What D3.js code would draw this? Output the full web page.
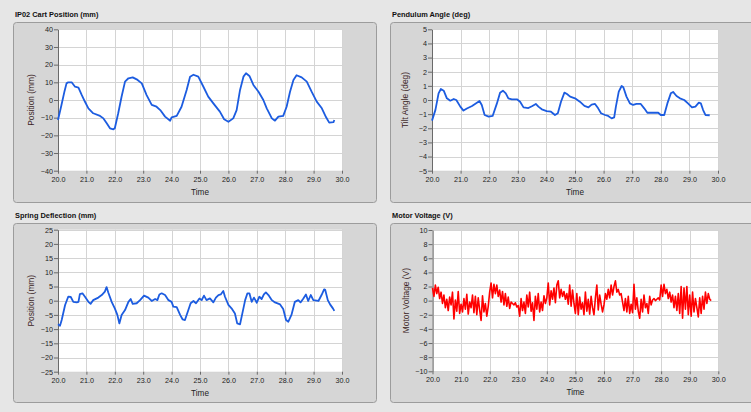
<!DOCTYPE html>
<html>
<head>
<meta charset="utf-8">
<script src="https://cdn.jsdelivr.net/npm/d3@7"></script>
<style>
  body { margin: 0; background: #e6e6e6; }
  svg { display: block; font-family: "Liberation Sans", Arial, sans-serif; }
</style>
</head>
<body>
<svg id="chart" width="751" height="412"></svg>
<script>
// time axis shared by all four graphs
const timeTicks = [20, 21, 22, 23, 24, 25, 26, 27, 28, 29, 30];

// IP02 cart position (mm)
const cartTime = [20.0, 20.12, 20.23, 20.3, 20.36, 20.48, 20.6, 20.72, 20.83, 20.95, 21.07, 21.24, 21.48, 21.6, 21.71, 21.83, 21.95, 22.0,
  22.12, 22.24, 22.36, 22.48, 22.63, 22.77, 22.95, 23.12, 23.3, 23.47, 23.6, 23.77, 23.95, 24.0, 24.18, 24.35, 24.53, 24.65,
  24.77, 24.94, 25.12, 25.29, 25.47, 25.7, 25.85, 26.0, 26.17, 26.29, 26.41, 26.53, 26.62, 26.74, 26.88, 27.06, 27.23, 27.35,
  27.53, 27.64, 27.76, 27.93, 28.05, 28.17, 28.29, 28.4, 28.58, 28.76, 28.93, 29.11, 29.29, 29.44, 29.55, 29.7, 29.73];
const cartPos = [-11.3, -3, 5, 9.4, 10, 10, 7.5, 7, 3, -1, -4.7, -7.5, -9, -10.4, -13, -16, -16.6, -16,
  -7.5, 2, 10.4, 12.3, 12.8, 11.7, 9.4, 2.8, -2.8, -3.8, -5.7, -9.4, -11.7, -9.8, -9, -3.8, 5.7, 13.2,
  14.3, 13.2, 7.5, 1.9, -1.9, -6.6, -10.9, -12.3, -10.4, -5.7, 5.7, 13.2, 15.1, 13.6, 8.5, 4.7, 0, -4.7,
  -10.4, -11.7, -9.4, -9, -3.8, 4.7, 11.3, 14, 12.8, 10.4, 4.7, -0.9, -4.7, -9.8, -12.8, -12.5, -11.3];
const cartTicks = [-40, -30, -20, -10, 0, 10, 20, 30, 40];

// pendulum angle (deg)
const angleTime = [20.0, 20.12, 20.23, 20.31, 20.41, 20.52, 20.64, 20.76, 20.85, 20.99, 21.1, 21.22, 21.4, 21.57, 21.66, 21.74,
  21.84, 21.98, 22.12, 22.27, 22.38, 22.48, 22.58, 22.67, 22.79, 22.97, 23.08, 23.2, 23.37, 23.51, 23.63, 23.72, 23.84, 24.01,
  24.16, 24.3, 24.4, 24.51, 24.63, 24.72, 24.83, 25.0, 25.17, 25.33, 25.47, 25.58, 25.7, 25.81, 25.91, 26.05, 26.16, 26.28,
  26.37, 26.43, 26.53, 26.63, 26.69, 26.8, 26.92, 27.03, 27.15, 27.3, 27.42, 27.53, 27.67, 27.91, 28.0, 28.12, 28.23, 28.35,
  28.43, 28.55, 28.67, 28.82, 28.95, 29.09, 29.21, 29.33, 29.4, 29.48, 29.56, 29.71];
const angleVal = [-1.46, -0.7, 0.47, 0.78, 0.66, 0.12, -0.05, 0.07, 0, -0.47, -0.75, -0.6, -0.42, -0.19, -0.07, -0.35,
  -1.06, -1.18, -1.13, -0.24, 0.52, 0.66, 0.47, 0.12, 0.05, 0.05, -0.12, -0.52, -0.57, -0.42, -0.28, -0.47, -0.66, -0.78,
  -0.83, -1.06, -0.94, -0.12, 0.52, 0.42, 0.24, 0.12, -0.12, -0.42, -0.52, -0.33, -0.28, -0.59, -0.94, -1.06, -1.13, -1.3,
  -1.23, -0.47, 0.59, 0.99, 0.9, 0.24, -0.24, -0.35, -0.28, -0.28, -0.59, -0.9, -0.9, -0.9, -1.06, -1.06, -0.24, 0.47,
  0.57, 0.28, 0.12, 0, -0.24, -0.52, -0.47, -0.19, -0.24, -0.71, -1.06, -1.08];
const angleTicks = [-5, -4, -3, -2, -1, 0, 1, 2, 3, 4, 5];

// spring deflection (mm)
const springTime = [20.0, 20.07, 20.13, 20.25, 20.36, 20.45, 20.54, 20.66, 20.72, 20.77, 20.86, 20.95, 21.07, 21.15, 21.24,
  21.42, 21.54, 21.65, 21.71, 21.77, 21.89, 22.0, 22.09, 22.16, 22.24, 22.36, 22.48, 22.56, 22.63, 22.77, 22.89, 23.03, 23.18,
  23.3, 23.42, 23.5, 23.57, 23.65, 23.77, 23.89, 24.0, 24.06, 24.18, 24.3, 24.39, 24.47, 24.59, 24.67, 24.77, 24.86, 24.98,
  25.06, 25.14, 25.23, 25.35, 25.47, 25.56, 25.65, 25.73, 25.82, 25.88, 26.0, 26.11, 26.23, 26.31, 26.41, 26.48, 26.59, 26.67,
  26.74, 26.82, 26.9, 27.0, 27.09, 27.17, 27.25, 27.32, 27.41, 27.53, 27.64, 27.82, 27.93, 28.03, 28.11, 28.22, 28.34, 28.46,
  28.54, 28.64, 28.73, 28.81, 28.9, 28.99, 29.17, 29.28, 29.37, 29.41, 29.5, 29.58, 29.68, 29.73];
const springVal = [-8.3, -8.8, -6.8, -1.5, 1.4, 1.3, -0.4, -0.6, -0.4, 2.3, 2.6, 1.4, -0.4, -1.1, 0.2,
  1.1, 2.0, 3.2, 4.8, 2.9, -0.4, -2.7, -5.0, -8.0, -5.0, -3.3, -0.4, 0.6, -1.1, -0.9, 0.2, 1.8, 1.1,
  -0.1, 0.6, 0.2, 2.2, 2.6, 2.0, 0.2, -0.4, -2.1, -2.3, -5.0, -6.6, -6.8, -3.3, -0.9, -0.1, -0.9, 0.8,
  0.2, 1.8, 0.2, 0.8, -0.6, 1.1, 2.0, 2.2, 3.4, 1.4, -1.5, -2.7, -4.5, -8.0, -8.3, -5.0, 0.2, 2.6,
  2.6, -0.4, 1.1, -0.7, 1.4, 0.6, 2.2, 2.9, 2.0, 0.2, -0.6, -1.3, -2.9, -6.8, -7.4, -5.0, -0.4, 0.2,
  -0.6, 0.8, 2.2, -0.1, 2.0, 0.2, -0.1, 2.0, 4.0, 3.8, 0.2, -1.3, -2.7, -3.6];
const springTicks = [-25, -20, -15, -10, -5, 0, 5, 10, 15, 20, 25];

// motor voltage (V), sampled every 0.05 s from 20.0 s
const voltStart = 20.0;
const voltDt = 0.05;
const voltVal = [
  1.8, 0.6, 2.2, 1.0, 1.9, 0.3, 1.2, -0.4, 0.8, -1.0, 0.2, -1.4, 0.5, -0.6, 1.2, -2.6, 0.1, -1.5, 1.3, -1.8,
  -0.5, -1.6, 0.3, -1.2, 0.9, -1.9, -0.2, -1.0, 0.8, -1.7, 0.6, -2.0, 0.4, -1.3, -2.8, 0.7, -1.6, -0.4, -2.2, -0.8,
  1.2, 2.5, 0.4, 2.3, 1.0, 2.2, 0.6, 1.5, -0.2, 1.3, -0.6, 1.0, -0.8, 0.5, -1.1, -0.2, -0.4, -0.6, -0.3, -0.9,
  -0.7, -2.2, 0.3, -1.4, -0.2, -1.8, 0.8, -0.9, 1.2, -1.5, -0.3, -2.8, 0.6, -1.2, 1.0, -1.6, -0.2, -1.4, 0.7, -0.4,
  0.4, 2.5, -0.6, 1.4, 0.2, 1.8, -0.3, 2.2, 2.8, 0.4, 1.6, 0.6, 1.3, 0.2, 1.0, -0.5, 2.2, -0.8, 1.5, -0.4,
  -1.8, 1.0, -2.0, 0.5, -1.2, -0.3, -2.0, 1.2, -1.5, 0.2, -1.9, 0.6, -1.0, -2.0, 0.4, 2.2, -1.3, 0.8, -0.5, -1.6,
  -0.6, 1.0, 0.2, 1.6, 0.4, 2.2, 0.8, 2.0, 2.8, 1.2, 1.6, 0.8, 1.0, -0.2, -1.4, 0.3, -1.6, 0.6, -1.8, -0.5,
  -1.7, 2.3, -1.2, 0.4, -1.5, -2.5, 0.2, -1.6, 0.8, -1.0, -0.4, -1.8, 0.6, -0.6, 0.1, 0.3, 0.0, 0.2, 0.4, 0.1,
  2.2, 0.6, 2.3, 1.0, 1.6, 0.3, 1.2, -0.2, 0.8, -1.0, 0.6, -1.4, 1.0, -1.8, 2.0, -2.5, 1.8, -1.2, 2.0, -2.0,
  0.8, -2.2, 1.2, -1.6, 0.3, -1.0, -2.3, 0.4, -1.8, 0.6, -1.2, 1.2, -0.4, 1.0, 0.2, 0.0];
const voltTicks = [-10, -8, -6, -4, -2, 0, 2, 4, 6, 8, 10];

const svg = d3.select('#chart');

// один график: рамка, сетка, оси, линия
function drawPanel(p) {
    const g = svg.append('g');

    // title above the frame
    g.append('text')
        .attr('x', p.fx + 2).attr('y', p.fy - 5)
        .attr('font-size', 7.4).attr('font-weight', 'bold').attr('fill', '#111')
        .text(p.title);

    // frame
    g.append('rect')
        .attr('x', p.fx + 0.5).attr('y', p.fy + 0.5)
        .attr('width', p.fw).attr('height', p.fh)
        .attr('rx', 3)
        .attr('fill', '#d6d6d6').attr('stroke', '#9c9c9c');

    const x = d3.scaleLinear().domain([20, 30]).range([p.left, p.left + p.width]);
    const y = d3.scaleLinear().domain([p.ticks[0], p.ticks[p.ticks.length - 1]])
        .range([p.top + p.height, p.top]);

    g.append('rect')
        .attr('x', p.left).attr('y', p.top)
        .attr('width', p.width).attr('height', p.height)
        .attr('fill', '#fff');

    // grid
    g.append('g').selectAll('line.v').data(timeTicks).enter().append('line')
        .attr('x1', d => Math.round(x(d)) + 0.5).attr('x2', d => Math.round(x(d)) + 0.5)
        .attr('y1', p.top).attr('y2', p.top + p.height)
        .attr('stroke', '#d4d4d4');
    g.append('g').selectAll('line.h').data(p.ticks).enter().append('line')
        .attr('x1', p.left).attr('x2', p.left + p.width)
        .attr('y1', d => Math.round(y(d)) + 0.5).attr('y2', d => Math.round(y(d)) + 0.5)
        .attr('stroke', '#d4d4d4');

    // axes
    const yAxis = g.append('g')
        .attr('transform', `translate(${p.left},0)`)
        .call(d3.axisLeft(y).tickValues(p.ticks).tickSize(4).tickPadding(1).tickSizeOuter(0));
    const xAxis = g.append('g')
        .attr('transform', `translate(0,${p.top + p.height})`)
        .call(d3.axisBottom(x).tickValues(timeTicks).tickSize(3).tickPadding(3).tickSizeOuter(0)
            .tickFormat(d3.format('.1f')));
    [yAxis, xAxis].forEach(a => {
        a.select('.domain').attr('stroke', '#6a6a6a');
        a.selectAll('.tick line').attr('stroke', '#6a6a6a');
        a.selectAll('.tick text').attr('fill', '#222').attr('font-size', 7.2)
            .attr('font-family', '"Liberation Sans", Arial, sans-serif');
    });
    xAxis.select('.domain').remove();

    // axis titles
    g.append('text')
        .attr('transform', `translate(${p.left - 24},${p.top + p.height / 2}) rotate(-90)`)
        .attr('text-anchor', 'middle').attr('font-size', 8.4).attr('fill', '#3a2424')
        .text(p.yLabel);
    g.append('text')
        .attr('x', p.left + p.width / 2).attr('y', p.top + p.height + 24)
        .attr('text-anchor', 'middle').attr('font-size', 8.2).attr('fill', '#222')
        .text('Time');

    // data line
    const line = d3.line().x(d => x(d[0])).y(d => y(d[1]));
    g.append('path')
        .datum(p.xs.map((t, i) => [t, p.ys[i]]))
        .attr('d', line)
        .attr('fill', 'none')
        .attr('stroke', p.color)
        .attr('stroke-width', p.lineWidth)
        .attr('stroke-linejoin', 'round');
}

drawPanel({ title: 'IP02 Cart Position (mm)', yLabel: 'Position (mm)',
    fx: 13, fy: 22, fw: 363, fh: 180, left: 58, top: 29.3, width: 284, height: 141.4,
    ticks: cartTicks, xs: cartTime, ys: cartPos, color: '#1c5ce0', lineWidth: 1.8 });

drawPanel({ title: 'Pendulum Angle (deg)', yLabel: 'Tilt Angle (deg)',
    fx: 390, fy: 22, fw: 380, fh: 180, left: 432, top: 29.3, width: 286, height: 141.4,
    ticks: angleTicks, xs: angleTime, ys: angleVal, color: '#1c5ce0', lineWidth: 1.8 });

drawPanel({ title: 'Spring Deflection (mm)', yLabel: 'Position (mm)',
    fx: 13, fy: 223, fw: 363, fh: 179, left: 58, top: 229.7, width: 284, height: 142,
    ticks: springTicks, xs: springTime, ys: springVal, color: '#1c5ce0', lineWidth: 1.8 });

drawPanel({ title: 'Motor Voltage (V)', yLabel: 'Motor Voltage (V)',
    fx: 390, fy: 223, fw: 380, fh: 179, left: 432.5, top: 230, width: 285.8, height: 141.3,
    ticks: voltTicks, xs: voltVal.map((v, i) => voltStart + i * voltDt), ys: voltVal,
    color: '#ff0000', lineWidth: 1.6 });
</script>
</body>
</html>
